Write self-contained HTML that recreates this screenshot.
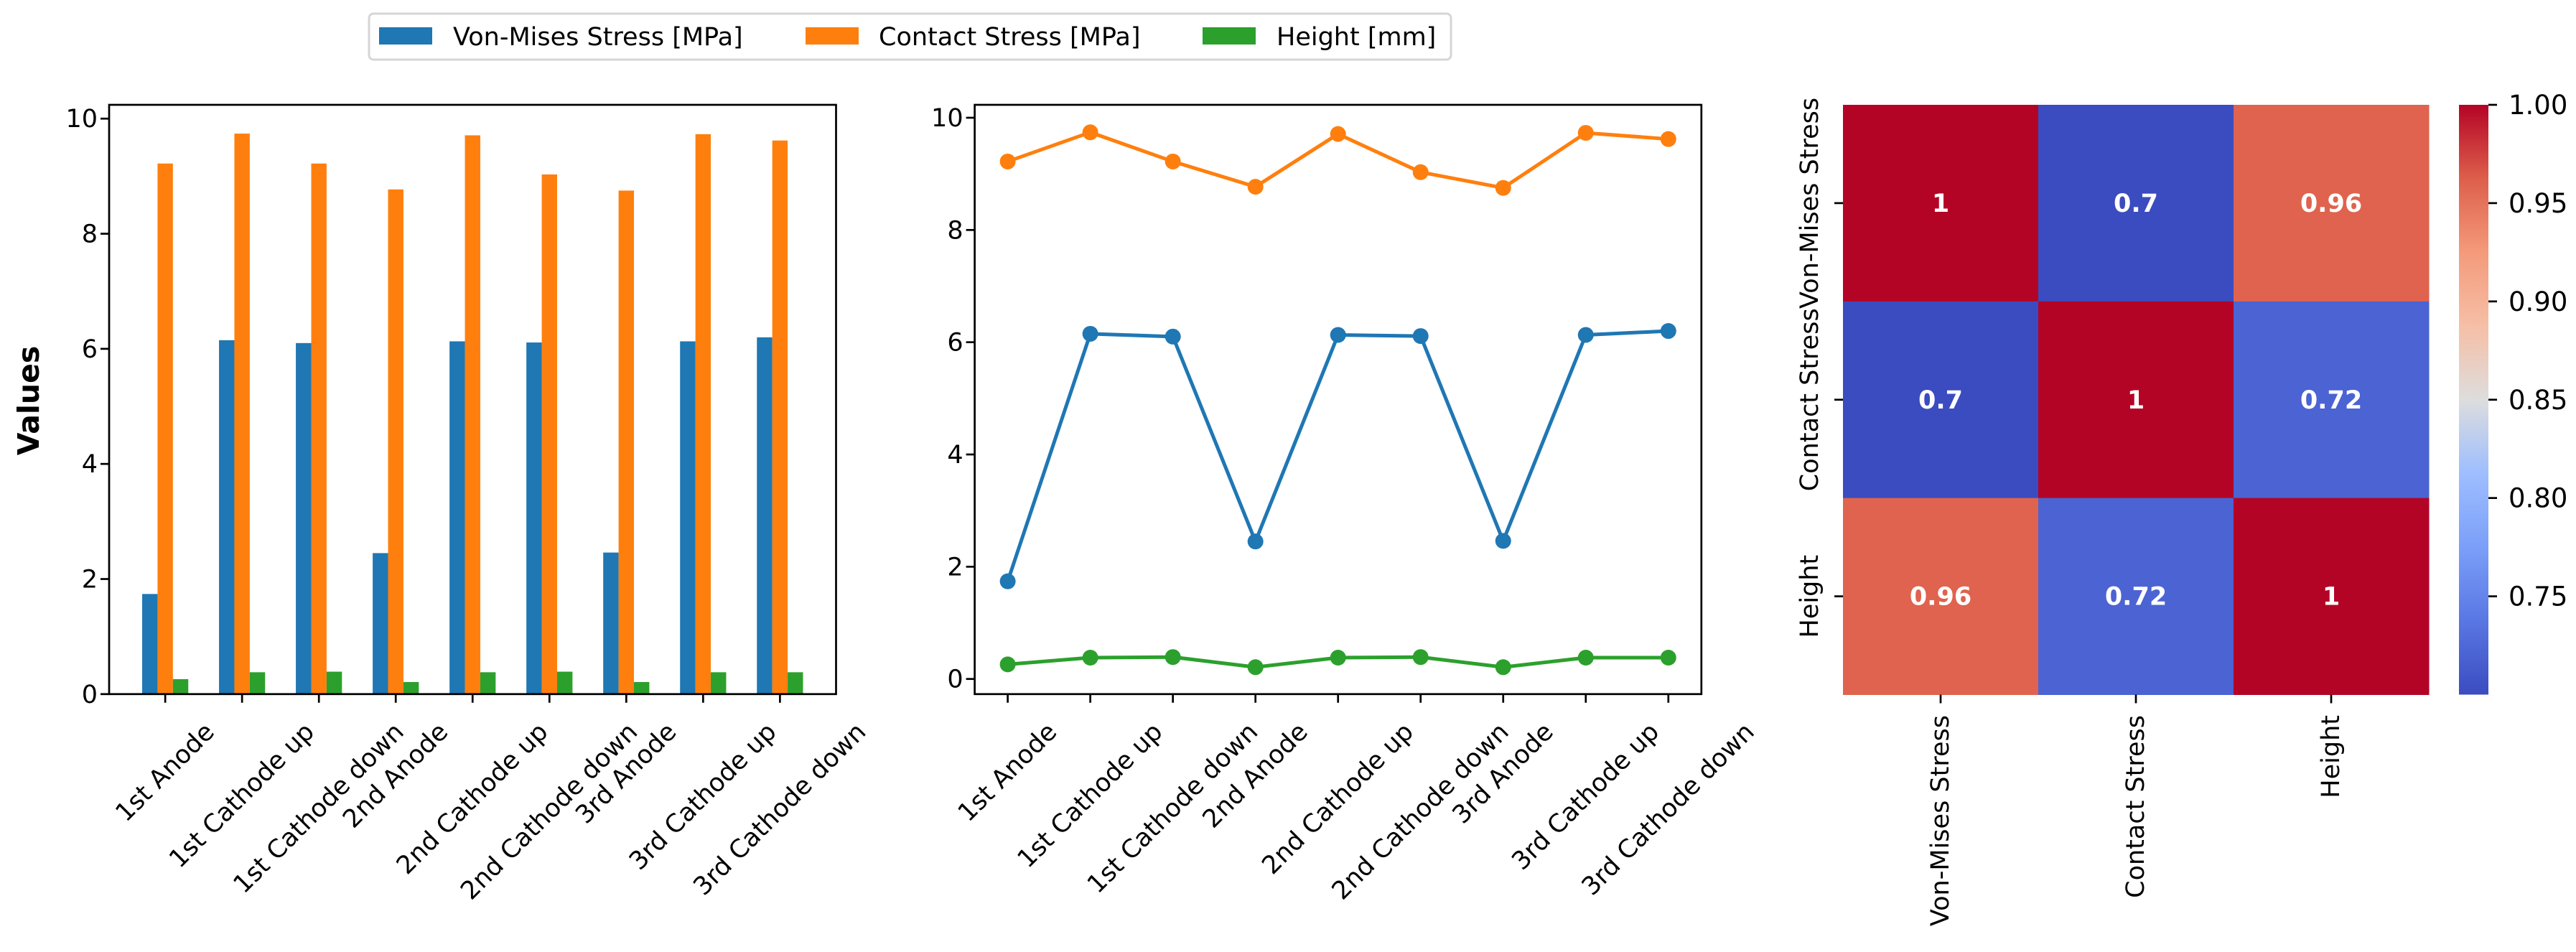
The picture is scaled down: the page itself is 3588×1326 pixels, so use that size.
<!DOCTYPE html>
<html><head><meta charset="utf-8">
<style>
html,body{margin:0;padding:0;background:#fff;}
svg{display:block;font-family:"DejaVu Sans","Liberation Sans",sans-serif;}
</style></head>
<body>
<svg id="fig" width="3588" height="1326" viewBox="0 0 3588 1326" xmlns="http://www.w3.org/2000/svg">
  <defs>
    <linearGradient id="cw" x1="0" y1="1" x2="0" y2="0">
      <stop offset="0" stop-color="#3b4cc0"/>
      <stop offset="0.125" stop-color="#5977e3"/>
      <stop offset="0.25" stop-color="#7b9ff9"/>
      <stop offset="0.375" stop-color="#9ebeff"/>
      <stop offset="0.5" stop-color="#dddddd"/>
      <stop offset="0.625" stop-color="#f6bfa6"/>
      <stop offset="0.75" stop-color="#f49a7b"/>
      <stop offset="0.875" stop-color="#dd5f4b"/>
      <stop offset="1" stop-color="#b40426"/>
    </linearGradient>
  </defs>
  <g id="legend">
    <rect x="514" y="19" width="1507" height="64" rx="6" fill="#fff" stroke="#d6d6d6" stroke-width="3"/>
    <rect x="528" y="38" width="74" height="24" fill="#1f77b4"/>
    <text x="631" y="63" font-size="35">Von-Mises Stress [MPa]</text>
    <rect x="1122" y="38" width="74" height="24" fill="#ff7f0e"/>
    <text x="1224" y="63" font-size="35">Contact Stress [MPa]</text>
    <rect x="1675" y="38" width="74" height="24" fill="#2ca02c"/>
    <text x="1778" y="63" font-size="35">Height [mm]</text>
  </g>
  <g id="bar"></g>
  <g id="line"></g>
  <g id="heat"></g>
</svg>
<script>
const categories = ["1st Anode","1st Cathode up","1st Cathode down","2nd Anode","2nd Cathode up","2nd Cathode down","3rd Anode","3rd Cathode up","3rd Cathode down"];
const vonMises = [1.74, 6.15, 6.10, 2.45, 6.13, 6.11, 2.46, 6.13, 6.20];
const contact = [9.22, 9.74, 9.22, 8.77, 9.71, 9.03, 8.75, 9.73, 9.62];
const heightMm = [0.26, 0.38, 0.39, 0.21, 0.38, 0.39, 0.21, 0.38, 0.38];
const yTicks = [0, 2, 4, 6, 8, 10];
const corrLabels = ["Von-Mises Stress","Contact Stress","Height"];
const corrRow0 = [1, 0.70, 0.96];
const corrRow1 = [0.70, 1, 0.72];
const corrRow2 = [0.96, 0.72, 1];
const corrAnnot0 = ["1","0.7","0.96"];
const corrAnnot1 = ["0.7","1","0.72"];
const corrAnnot2 = ["0.96","0.72","1"];
const cbTicks = [0.75, 0.80, 0.85, 0.90, 0.95, 1.00];
const cbTickLabels = ["0.75","0.80","0.85","0.90","0.95","1.00"];

const NS = "http://www.w3.org/2000/svg";
function mk(parent, tag, attrs, text){
  const e = document.createElementNS(NS, tag);
  for (const k in attrs) e.setAttribute(k, attrs[k]);
  if (text !== undefined) e.textContent = text;
  parent.appendChild(e);
  return e;
}
const FS = 35;
const C = ["#1f77b4","#ff7f0e","#2ca02c"];

function drawRotLabels(g, xs, top, nameP){
  categories.forEach((c,i)=>{
    const t = mk(g,"text",{"font-size":FS,"text-anchor":"middle","dominant-baseline":"central"},c);
    
    
    const w = t.getComputedTextLength();
    const h = FS*1.1;
    const bb = (w+h)*0.7071;
    const cx = xs(i), cy = top + bb/2;
    t.setAttribute("x", cx); t.setAttribute("y", cy);
    t.setAttribute("transform", `rotate(-45 ${cx} ${cy})`);
  });
}

function axesFrame(g, L, T, R, B, xs, ys, nameP){
  categories.forEach((c,i)=>{
    const tk = mk(g,"line",{x1:xs(i),x2:xs(i),y1:B,y2:B+12,stroke:"#000","stroke-width":2.7});
    
    
  });
  yTicks.forEach(v=>{
    const y = ys(v);
    const tk = mk(g,"line",{x1:L-12,x2:L,y1:y,y2:y,stroke:"#000","stroke-width":2.7});
    
    
    const t = mk(g,"text",{x:L-16,y:y+12,"font-size":FS,"text-anchor":"end"},String(v));
    
    
  });
  const fr = mk(g,"rect",{x:L,y:T,width:R-L,height:B-T,fill:"none",stroke:"#000","stroke-width":2.7});
  
  
  drawRotLabels(g, xs, 1000, nameP);
}

// ---- bar chart
(function(){
  const g = document.getElementById("bar");
  const L=152, R=1164.5, T=146, B=966.8;
  const xmin=-0.73, xmax=8.73, ymin=0, ymax=10.24;
  const xs = i => L + (i - xmin)/(xmax-xmin)*(R-L);
  const ys = v => B - (v - ymin)/(ymax-ymin)*(B-T);
  const bw = 0.2*(R-L)/(xmax-xmin);
  [vonMises, contact, heightMm].forEach((arr, s)=>{
    arr.forEach((v,i)=>{
      const x = xs(i) + (s-1)*bw - bw/2;
      const r = mk(g,"rect",{x:x,y:ys(v),width:bw,height:ys(0)-ys(v),fill:C[s]});
      
      
    });
  });
  axesFrame(g, L, T, R, B, xs, ys, "bar");
  const yl = mk(g,"text",{x:54,y:558,"font-size":41,"font-weight":"bold","text-anchor":"middle",transform:"rotate(-90 54 558)"},"Values");
  
  
})();

// ---- line chart
(function(){
  const g = document.getElementById("line");
  const L=1357.6, R=2369.8, T=146, B=966.8;
  const xmin=-0.4, xmax=8.4, ymin=-0.27, ymax=10.23;
  const xs = i => L + (i - xmin)/(xmax-xmin)*(R-L);
  const ys = v => B - (v - ymin)/(ymax-ymin)*(B-T);
  [vonMises, contact, heightMm].forEach((arr, s)=>{
    const pts = arr.map((v,i)=>xs(i)+","+ys(v)).join(" ");
    const pl = mk(g,"polyline",{points:pts,fill:"none",stroke:C[s],"stroke-width":5,"stroke-linejoin":"round"});
    
    
    arr.forEach((v,i)=>{
      const c = mk(g,"circle",{cx:xs(i),cy:ys(v),r:11,fill:C[s]});
      
      
    });
  });
  axesFrame(g, L, T, R, B, xs, ys, "line");
})();

// ---- heatmap
(function(){
  const g = document.getElementById("heat");
  const L=2567, R=3383, T=146, B=967.5;
  const rows = [corrRow0, corrRow1, corrRow2];
  const annots = [corrAnnot0, corrAnnot1, corrAnnot2];
  const allv = rows.flat();
  const vmin = Math.min(...allv), vmax = Math.max(...allv);
  const stops = [[59,76,192],[89,119,227],[123,159,249],[158,190,255],[221,221,221],[246,191,166],[244,154,123],[221,95,75],[180,4,38]];
  function cmap(v){
    let t = (v - vmin)/(vmax - vmin); t = Math.max(0, Math.min(1, t));
    const p = t*8, k = Math.min(7, Math.floor(p)), f = p - k;
    const a = stops[k], b = stops[k+1];
    return `rgb(${a.map((x,j)=>Math.round(x+(b[j]-x)*f)).join(",")})`;
  }
  const cw = (R-L)/3, ch = (B-T)/3;
  rows.forEach((row, r)=>{
    row.forEach((v, c)=>{
      const cell = mk(g,"rect",{x:L+c*cw,y:T+r*ch,width:cw+0.5,height:ch+0.5,fill:cmap(v)});
      
      
      const t = mk(g,"text",{x:L+(c+0.5)*cw,y:T+(r+0.5)*ch+12,"font-size":FS,"font-weight":"bold",fill:"#fff","text-anchor":"middle"},annots[r][c]);
      
      
    });
  });
  corrLabels.forEach((lab,i)=>{
    const y = T+(i+0.5)*ch;
    const tk = mk(g,"line",{x1:L-12,x2:L,y1:y,y2:y,stroke:"#000","stroke-width":2.7});
    
    
    const t = mk(g,"text",{x:2521,y:y,"font-size":FS,"text-anchor":"middle","dominant-baseline":"central",transform:`rotate(-90 2521 ${y})`},lab);
    
    
    const x = L+(i+0.5)*cw;
    const tk2 = mk(g,"line",{x1:x,x2:x,y1:B,y2:B+12,stroke:"#000","stroke-width":2.7});
    
    
    const t2 = mk(g,"text",{x:x,y:996,"font-size":FS,"text-anchor":"end","dominant-baseline":"central",transform:`rotate(-90 ${x} 996)`},lab);
    
    
  });
  // colorbar
  const CL=3425, CR=3466;
  const cb = mk(g,"rect",{x:CL,y:T,width:CR-CL,height:B-T,fill:"url(#cw)"});
  
  
  const cys = v => B - (v - vmin)/(vmax - vmin)*(B-T);
  cbTicks.forEach((v,i)=>{
    const y = cys(v);
    const tk = mk(g,"line",{x1:CR,x2:CR+12,y1:y,y2:y,stroke:"#000","stroke-width":2.7});
    
    
    const t = mk(g,"text",{x:3494,y:y+13,"font-size":37},cbTickLabels[i]);
    
    
  });
})();
</script>
</body></html>
